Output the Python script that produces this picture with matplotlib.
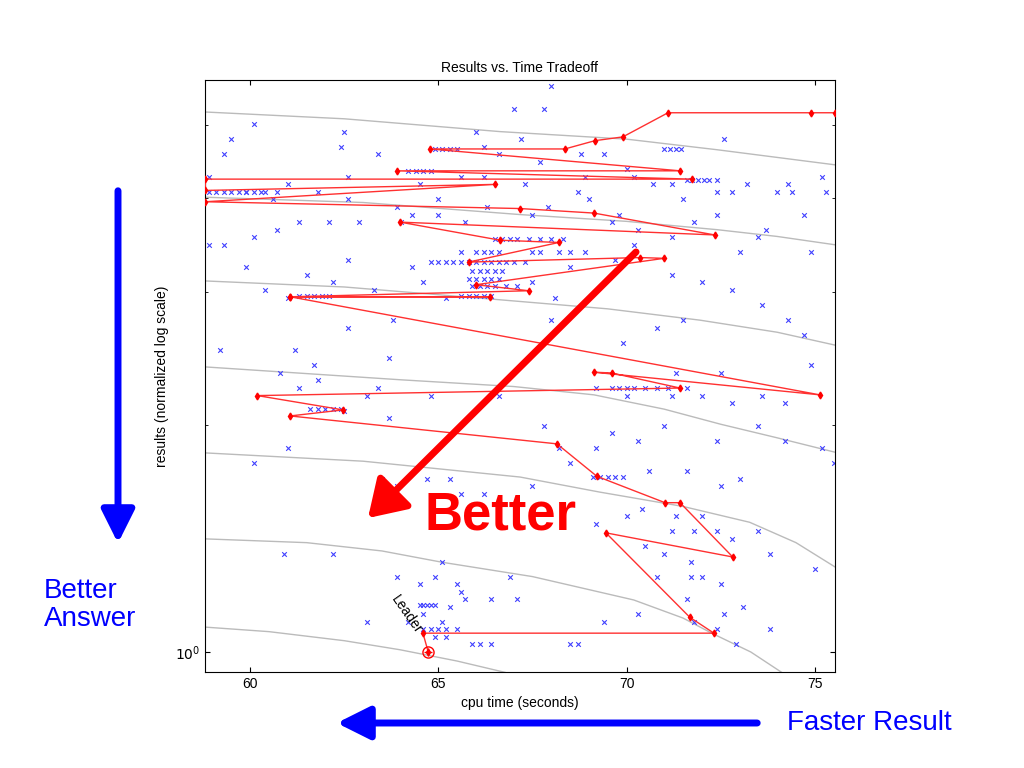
import numpy as np
import matplotlib.pyplot as plt
from matplotlib.patches import FancyArrowPatch

plt.rcParams['font.family'] = ['Liberation Sans', 'DejaVu Sans']

# y values are given as log10(result)
# gray tradeoff curves: (x list, log y list)
curves = [
    ([58.81, 62.5, 66.64, 70.0, 72.40, 75.53], [0.716, 0.707, 0.690, 0.680, 0.666, 0.646]),
    ([58.81, 63.0, 67.17, 70.0, 72.40, 74.0, 75.53], [0.603, 0.596, 0.580, 0.571, 0.560, 0.551, 0.540]),
    ([58.81, 62.5, 66.64, 69.5, 71.95, 74.0, 75.53], [0.492, 0.484, 0.467, 0.455, 0.440, 0.424, 0.407]),
    ([58.81, 63.98, 67.0, 69.13, 71.0, 72.50, 74.0, 75.53], [0.378, 0.361, 0.352, 0.341, 0.322, 0.302, 0.284, 0.265]),
    ([58.81, 63.0, 67.17, 69.29, 71.5, 73.27, 74.5, 75.53], [0.264, 0.253, 0.232, 0.212, 0.193, 0.172, 0.145, 0.113]),
    ([58.81, 61.5, 63.5, 65.10, 67.5, 70.19, 71.5, 72.26, 73.3, 74.12],
     [0.150, 0.145, 0.134, 0.119, 0.100, 0.069, 0.045, 0.025, 0.000, -0.027]),
    ([58.81, 60.5, 62.5, 63.98, 65.5, 66.77], [0.033, 0.027, 0.015, 0.003, -0.012, -0.027]),
]

blue_x = [68.0, 67.0, 67.8, 66.6, 65.6, 66.2, 67.3, 68.9, 69.8, 72.6, 74.3, 75.2, 73.0, 73.5, 74.9,
          59.5, 59.3, 60.1, 62.5, 62.4, 62.6, 61.0, 63.4, 64.5, 58.9, 59.9, 60.3, 60.6, 61.8, 62.6,
          64.0, 65.0, 67.7, 68.8, 69.4, 70.0, 70.2, 70.7, 71.2, 71.5, 72.4, 72.8, 73.2, 74.0, 74.4,
          75.3, 74.7, 73.7, 72.4, 71.8, 71.2, 70.3, 69.6, 69.0, 68.7, 67.9, 67.5, 66.3, 65.7, 65.0,
          64.3, 63.9, 62.9, 62.1, 61.3, 60.7, 60.1, 59.3, 59.9, 60.4, 61.0, 61.5, 62.2, 62.6, 63.3,
          64.3, 64.6, 65.2, 65.6, 67.5, 68.1, 68.5, 68.9, 69.7, 70.2, 71.2, 72.0, 72.8, 73.6, 74.3,
          71.5, 70.8, 69.9, 68.0, 63.8, 62.6, 61.2, 61.7, 61.8, 60.8, 61.3, 59.2, 63.7, 63.4, 63.1,
          62.5, 63.7, 64.8, 66.6, 69.2, 70.0, 71.2, 72.0, 72.8, 73.6, 74.2, 72.5, 71.3, 74.7, 74.9,
          67.8, 68.2, 69.6, 70.3, 71.0, 72.4, 73.5, 74.2, 75.2, 75.5, 73.0, 72.5, 71.6, 70.6, 69.2,
          68.5, 67.5, 66.2, 65.6, 65.3, 64.7, 63.9, 63.5, 61.0, 60.1, 69.2, 70.0, 70.4, 71.3, 71.8,
          72.0, 72.4, 72.8, 73.5, 73.8, 75.0, 70.5, 71.0, 71.7, 72.0, 72.5, 71.7, 71.6, 70.8, 69.4,
          70.3, 71.8, 72.6, 73.1, 73.8, 72.4, 72.9, 71.2, 60.9, 62.2, 63.9, 65.1, 65.5, 65.6, 66.9,
          67.1, 66.4, 65.7, 65.3, 64.9, 64.5, 63.1, 64.2, 64.6, 65.1, 65.5, 65.9, 66.1, 66.4, 65.2,
          64.9, 68.5, 68.7, 58.9, 66.2, 67.2, 66.0]
blue_ly = [0.75, 0.72, 0.72, 0.66, 0.63, 0.63, 0.62, 0.63, 0.58, 0.68, 0.62, 0.63, 0.53, 0.55, 0.53,
           0.68, 0.66, 0.70, 0.69, 0.67, 0.63, 0.62, 0.66, 0.62, 0.63, 0.61, 0.61, 0.60, 0.61, 0.60,
           0.57, 0.60, 0.65, 0.66, 0.66, 0.64, 0.63, 0.62, 0.62, 0.60, 0.61, 0.61, 0.62, 0.61, 0.61,
           0.61, 0.58, 0.56, 0.58, 0.57, 0.55, 0.56, 0.57, 0.60, 0.61, 0.59, 0.58, 0.59, 0.57, 0.58,
           0.58, 0.59, 0.57, 0.57, 0.57, 0.56, 0.55, 0.54, 0.51, 0.48, 0.47, 0.50, 0.49, 0.52, 0.48,
           0.51, 0.49, 0.47, 0.53, 0.49, 0.47, 0.51, 0.53, 0.52, 0.54, 0.50, 0.49, 0.48, 0.46, 0.44,
           0.44, 0.43, 0.41, 0.44, 0.44, 0.43, 0.40, 0.38, 0.36, 0.37, 0.35, 0.40, 0.39, 0.35, 0.34,
           0.32, 0.31, 0.34, 0.34, 0.35, 0.34, 0.34, 0.34, 0.33, 0.34, 0.33, 0.37, 0.37, 0.42, 0.38,
           0.30, 0.27, 0.29, 0.28, 0.30, 0.28, 0.30, 0.28, 0.27, 0.25, 0.23, 0.22, 0.24, 0.24, 0.27,
           0.25, 0.22, 0.21, 0.21, 0.23, 0.23, 0.22, 0.23, 0.27, 0.25, 0.17, 0.18, 0.19, 0.18, 0.16,
           0.18, 0.16, 0.15, 0.16, 0.13, 0.11, 0.14, 0.13, 0.12, 0.10, 0.09, 0.10, 0.07, 0.10, 0.04,
           0.05, 0.04, 0.05, 0.06, 0.03, 0.03, 0.01, 0.16, 0.13, 0.13, 0.10, 0.12, 0.09, 0.08, 0.10,
           0.07, 0.07, 0.07, 0.06, 0.10, 0.09, 0.04, 0.04, 0.05, 0.04, 0.03, 0.01, 0.01, 0.01, 0.02,
           0.02, 0.01, 0.01, 0.54, 0.67, 0.68, 0.69]

# dense horizontal runs of blue points: (log y, x values)
blue_runs = [
    (0.610, [58.9, 59.1, 59.3, 59.5, 59.7, 59.9, 60.1, 60.4, 60.7]),
    (0.626, [71.6, 71.75, 71.9, 72.05, 72.2, 72.4]),
    (0.667, [64.9, 65.1, 65.3, 65.5, 71.0, 71.15, 71.3, 71.45]),
    (0.638, [64.2, 64.4, 64.6, 64.8]),
    (0.548, [66.5, 66.7, 66.9, 67.1, 67.4, 67.7, 68.0, 68.3]),
    (0.530, [66.0, 66.2, 66.4, 66.6, 67.5, 67.7, 68.2, 68.5]),
    (0.517, [64.8, 65.0, 65.2, 65.4, 65.6, 65.8, 66.0, 66.2, 66.4, 66.6, 66.8, 67.0, 67.3]),
    (0.505, [65.9, 66.1, 66.3, 66.5, 66.7]),
    (0.495, [65.8, 66.0, 66.2, 66.4, 66.6]),
    (0.485, [65.9, 66.1, 66.3, 66.5, 66.8, 67.1]),
    (0.472, [61.3, 61.5, 61.7, 61.9, 62.1, 65.6, 65.8, 66.0, 66.2, 66.4]),
    (0.350, [69.6, 69.8, 70.0, 70.2, 70.5, 70.8, 71.1, 71.6]),
    (0.322, [61.6, 61.8, 62.0, 62.2, 62.4]),
    (0.232, [69.1, 69.3, 69.5, 69.7, 69.9]),
    (0.062, [64.5, 64.6, 64.7, 64.8, 64.9]),
    (0.030, [64.6, 64.8, 65.0, 65.2]),
]

# red search path (x, log y)
path_x = [75.53, 74.9, 71.10, 69.9, 69.16, 68.36, 64.78, 71.42, 63.9, 71.73, 58.81, 58.81, 66.5,
          58.81, 67.17, 69.13, 72.34, 63.98, 66.64, 68.2, 65.8, 70.35, 71.0, 66.0, 67.4,
          61.06, 66.37, 61.06, 75.13, 69.13, 69.6, 71.42, 60.19, 62.47, 61.06, 68.15, 69.21,
          71.02, 71.42, 72.82, 69.45, 71.68, 72.32, 64.59, 64.73]
path_ly = [0.715, 0.715, 0.715, 0.683, 0.678, 0.667, 0.667, 0.638, 0.638, 0.627, 0.627, 0.612, 0.620,
           0.597, 0.588, 0.582, 0.553, 0.570, 0.546, 0.543, 0.517, 0.523, 0.522, 0.487, 0.479,
           0.471, 0.471, 0.471, 0.341, 0.371, 0.370, 0.350, 0.340, 0.321, 0.313, 0.276, 0.233,
           0.198, 0.198, 0.126, 0.158, 0.046, 0.025, 0.025, 0.0]
leader_x, leader_ly = 64.73, 0.0

fig = plt.figure(figsize=(10.24, 7.68), dpi=100)
ax = fig.add_axes([0.2002, 0.125, 0.615, 0.771])

for cx, cy in curves:
    ax.plot(cx, 10 ** np.array(cy), color='#bbbbbb', lw=1.0, zorder=1)

bx = list(blue_x)
by = list(blue_ly)
for ly, xs in blue_runs:
    bx += xs
    by += [ly] * len(xs)
ax.scatter(bx, 10 ** np.array(by), marker='x', s=11, color='#4040ff', lw=0.8, zorder=2)

ax.plot(path_x, 10 ** np.array(path_ly), color='#ff3030', lw=1.0, marker='d', ms=3.5,
        mfc='red', mec='red', zorder=3)
ax.plot([leader_x], [10 ** leader_ly], marker='o', ms=8, mfc='none', mec='red', zorder=4)
ax.plot([leader_x], [10 ** leader_ly], marker='+', ms=6, color='red', zorder=4)
ax.text(64.15, 10 ** 0.05, 'Leader', rotation=-55, ha='center', va='center', fontsize=10)

ax.set_yscale('log')
ax.set_xlim(58.8, 75.53)
ax.set_ylim(10 ** -0.0265, 10 ** 0.7586)
ax.set_xticks([60, 65, 70, 75])
ax.set_yticks([1])
ax.set_yticklabels(['$10^0$'])
ax.set_yticks([2, 3, 4, 5], minor=True)
ax.yaxis.set_minor_formatter(plt.NullFormatter())
ax.tick_params(which='both', direction='in', top=True, right=True, labelsize=10)
ax.set_title('Results vs. Time Tradeoff', fontsize=10)
ax.set_xlabel('cpu time (seconds)', fontsize=10)
ax.set_ylabel('results (normalized log scale)', fontsize=10)

# annotations drawn in figure coordinates
W, H = 1024, 768
def fc(px, py):
    return (px / W, 1 - py / H)

fig.patches.append(FancyArrowPatch(fc(638, 250), fc(366, 520), transform=fig.transFigure,
                                   arrowstyle='-|>,head_length=1.1,head_width=0.7',
                                   mutation_scale=20, lw=5, color='#ff0000'))
fig.text(*fc(500, 515), 'Better', color='#ff0000', fontsize=38, fontweight='bold',
         ha='center', va='center')
fig.patches.append(FancyArrowPatch(fc(118, 188), fc(118, 546), transform=fig.transFigure,
                                   arrowstyle='-|>,head_length=1.0,head_width=0.5',
                                   mutation_scale=20, lw=5, color='#0000ff'))
fig.text(*fc(44, 605), 'Better\nAnswer', color='#0000ff', fontsize=20, ha='left', va='center',
         linespacing=1.15)
fig.patches.append(FancyArrowPatch(fc(760, 723), fc(334, 723), transform=fig.transFigure,
                                   arrowstyle='-|>,head_length=1.0,head_width=0.5',
                                   mutation_scale=20, lw=5, color='#0000ff'))
fig.text(*fc(787, 723), 'Faster Result', color='#0000ff', fontsize=20, ha='left', va='center')

fig.savefig('out.png', dpi=100)
